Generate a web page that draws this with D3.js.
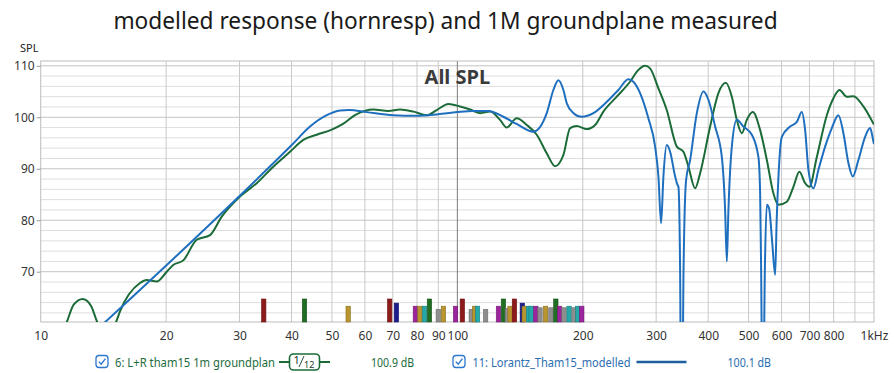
<!DOCTYPE html>
<html>
<head>
<meta charset="utf-8">
<script src="https://cdn.jsdelivr.net/npm/d3@7"></script>
<style>
  body { margin: 0; background: #fff; }
  text { font-family: "Noto Sans", "Open Sans", sans-serif; }
</style>
</head>
<body>
<script>
// measured: [freq Hz, dB]
const measured = [
  [10, 50], [11.55, 60.2], [12.0, 63.6], [12.61, 64.7], [13.2, 63.4], [13.67, 60.2], [14.4, 57.5],
  [15.16, 60.2], [15.5, 62.3], [17.31, 67.8], [17.97, 68.4], [18.98, 68.1], [20.07, 70.0], [20.8, 71.3],
  [21.99, 72.2], [23.68, 76.2], [25.49, 77.1], [27.2, 80.7], [30.09, 84.6], [33, 87.2], [36.16, 90.4],
  [39.66, 93.3], [42.69, 95.6], [45.97, 96.6], [49.95, 97.6], [53.15, 98.7], [56.8, 100.4], [62.85, 101.5],
  [68.29, 101.2], [72.86, 101.5], [78.43, 101.1], [84.44, 100.4], [89.25, 101.4], [95.15, 102.6],
  [101.5, 102.1], [107.3, 101.5], [113.4, 100.8], [119.8, 101.1], [126.6, 99.5], [131.4, 98.0],
  [138.8, 99.8], [146.8, 98.5], [155.1, 96.6], [163.9, 93.0], [171.6, 90.5], [179.7, 92.7], [186.5, 97.9],
  [193.5, 98.3], [204.5, 97.7], [214.1, 98.5], [224.1, 101.1], [241.3, 104.0], [259.7, 106.9],
  [272, 109.2], [282.2, 110.0], [290.1, 109.5], [303.8, 105.6], [318.1, 101.4], [336.3, 94.3],
  [348.8, 93.3], [358.6, 90.4], [372.1, 86.2], [382.5, 89.1], [404.3, 98.2], [423.2, 104.7],
  [440.9, 106.7], [455.8, 104.0], [468.5, 99.5], [481.7, 96.9], [495.2, 99.5], [511.9, 101.0],
  [533, 97.5], [553.1, 91.7], [573.6, 85.2], [589.8, 83.0], [617.7, 83.6], [640.6, 86.5], [662.2, 89.4],
  [683.4, 87.2], [699.8, 86.5], [729.1, 92.3], [770.5, 100.4], [799.1, 103.7], [826.1, 105.3],
  [860.4, 104.0], [892.4, 104.1], [943.1, 102.1], [996.8, 98.8], [1000, 98.6]
];

// modelled (hornresp)
const modelled = [
  [10, 48.5], [14.27, 60.2], [20.07, 71.3], [30.09, 84.8], [40.04, 94.6], [44.3, 98.2], [48.59, 100.4],
  [52.3, 101.3], [55, 101.4], [60.59, 101.0], [70.09, 100.4], [79.91, 100.3], [89.89, 100.6], [100, 101.0],
  [109.1, 101.2], [118.7, 101.2], [128.9, 100.1], [138.8, 98.7], [152.2, 97.2], [163.9, 100.8],
  [170, 105.3], [174.8, 107.2], [179.7, 105.3], [183.1, 102.7], [190, 100.8], [198.9, 100.1],
  [212.1, 100.8], [228.4, 103.0], [243.5, 105.3], [257.3, 107.4], [264.5, 106.9], [274.5, 104.7],
  [287.4, 99.8], [298.3, 94.3], [303.8, 88.5], [308.3, 79.4], [312.3, 88.5], [318.1, 94.6],
  [324.1, 93.3], [333.2, 88.5], [337.4, 86.9], [339.3, 86.5], [342.5, 70], [344, 50], [347, 50],
  [349, 70], [354, 87.8], [362, 91.7], [375.6, 100.8], [389.6, 105.0], [400.5, 103.4], [415.6, 98.2],
  [431.3, 92.3], [439.2, 82.0], [443.4, 72.0], [447.3, 82.0], [455.8, 94.3], [468.5, 99.5], [486, 98.2],
  [509.1, 96.6], [527.9, 92.3], [533, 85.2], [536, 70], [539, 50], [543, 50], [547, 70], [553.1, 83.0],
  [560, 82.3], [570, 75.5], [579.1, 69.4], [584, 80], [589.8, 88.5], [600.9, 96.2], [629, 98.2],
  [652.8, 99.1], [671.1, 101.0], [683.4, 97.5], [696, 89.8], [715.5, 86.2], [735.6, 89.8], [763.3, 94.3],
  [792.1, 97.9], [821.5, 100.4], [844.5, 96.9], [868.1, 91.1], [889.4, 88.5], [917.4, 91.7],
  [952.1, 96.2], [978.7, 97.9], [996.8, 95.3], [1000, 94.8]
];

// marker bars along the bottom: frequency, top dB, colour key
const barFreqs = [34.3, 42.97, 54.7, 68.8, 71.4, 79.3, 81.3, 83.4, 85.7, 90.0, 92.6, 99.0, 102.8,
  108.0, 110.0, 111.8, 116.9, 125.5, 129.0, 131.8, 133.8, 137.1, 143.2, 144.7, 148.2, 150.3,
  154.3, 157.9, 162.8, 167.7, 172.3, 175.9, 180.3, 185.4, 190.6, 194.3, 198.9];
const barTops = [64.7, 64.7, 63.3, 64.7, 63.9, 63.3, 63.3, 63.3, 64.7, 62.7, 63.3, 63.3, 64.7,
  62.7, 63.3, 63.3, 62.7, 63.3, 64.7, 62.9, 63.3, 64.7, 63.9, 63.3, 63.3, 63.3,
  63.3, 63.0, 63.3, 63.0, 64.7, 63.3, 63.0, 63.3, 63.0, 63.3, 63.3];
const barKinds = ['red', 'green', 'gold', 'red', 'navy', 'magenta', 'gold', 'teal', 'green', 'grey', 'gold', 'magenta', 'red',
  'grey', 'gold', 'teal', 'grey', 'magenta', 'green', 'grey', 'gold', 'red', 'navy', 'gold', 'teal', 'teal',
  'magenta', 'grey', 'gold', 'grey', 'green', 'magenta', 'grey', 'teal', 'grey', 'teal', 'magenta'];

const xTicks = [10, 20, 30, 40, 50, 60, 70, 80, 90, 100, 200, 300, 400, 500, 600, 700, 800, 1000];
const xGrid = [20, 30, 40, 50, 60, 70, 80, 90, 100, 200, 300, 400, 500, 600, 700, 800, 900];
const yTicks = [70, 80, 90, 100, 110];

const barColors = {
  red: '#8e1b1b', green: '#1f6e24', gold: '#b8952f', navy: '#1c1c8c',
  magenta: '#9c249c', teal: '#24a8a8', grey: '#8f8f8f'
};

const W = 894, H = 373;
const svg = d3.select('body').append('svg').attr('width', W).attr('height', H);

const x = d3.scaleLog().domain([10, 1000]).range([40.7, 874]);
const y = d3.scaleLinear().domain([60.23, 110.93]).range([322, 61]);

// title
svg.append('text')
  .attr('x', 445.5).attr('y', 29)
  .attr('text-anchor', 'middle')
  .attr('font-size', 22.7)
  .attr('fill', '#1a1a1a')
  .text('modelled response (hornresp) and 1M groundplane measured');

svg.append('text')
  .attr('x', 20).attr('y', 52)
  .attr('font-size', 11)
  .attr('fill', '#222')
  .text('SPL');

const plot = svg.append('g');

// horizontal grid, every 2 dB
const hLines = d3.range(62, 111, 2);
plot.selectAll('line.h').data(hLines).join('line')
  .attr('x1', x(10)).attr('x2', x(1000))
  .attr('y1', d => y(d)).attr('y2', d => y(d))
  .attr('stroke', d => d % 10 === 0 ? '#c4c4c4' : '#dedede')
  .attr('stroke-width', 1);

// vertical grid
plot.selectAll('line.v').data(xGrid).join('line')
  .attr('x1', d => x(d)).attr('x2', d => x(d))
  .attr('y1', y.range()[1]).attr('y2', y.range()[0])
  .attr('stroke', d => d === 100 ? '#7d7d7d' : '#c8c8c8')
  .attr('stroke-width', 1);

// frame
plot.append('rect')
  .attr('x', x(10)).attr('y', 61)
  .attr('width', x(1000) - x(10)).attr('height', 322 - 61)
  .attr('fill', 'none').attr('stroke', '#bdbdbd');

// y axis
const yAxis = d3.axisLeft(y).tickValues(yTicks).tickSize(4).tickPadding(2);
const gy = svg.append('g').attr('transform', `translate(${x(10)},0)`).call(yAxis);
gy.select('.domain').remove();
gy.selectAll('line').attr('stroke', '#999');
gy.selectAll('text').attr('font-size', 12).attr('fill', '#333')
  .style('font-family', '"Noto Sans", sans-serif');

// x axis
const xAxis = d3.axisBottom(x).tickValues(xTicks).tickSize(0).tickPadding(9)
  .tickFormat(d => d === 1000 ? '1kHz' : d);
const gx = svg.append('g').attr('transform', 'translate(0,322)').call(xAxis);
gx.select('.domain').remove();
gx.selectAll('text').attr('font-size', 12).attr('fill', '#333')
  .style('font-family', '"Noto Sans", sans-serif');

// All SPL
svg.append('text')
  .attr('x', x(100)).attr('y', 84)
  .attr('text-anchor', 'middle')
  .attr('font-size', 20).attr('font-weight', 'bold')
  .attr('fill', '#3b3b3b')
  .text('All SPL');

// bars
const bars = barFreqs.map((f, i) => ({ f, top: barTops[i], kind: barKinds[i] }));
plot.selectAll('rect.bar').data(bars).join('rect')
  .attr('class', 'bar')
  .attr('x', d => x(d.f) - 2.2)
  .attr('width', 4.4)
  .attr('y', d => y(d.top))
  .attr('height', d => 322 - y(d.top))
  .attr('fill', d => barColors[d.kind])
  .attr('stroke', d => d3.color(barColors[d.kind]).darker(0.8))
  .attr('stroke-width', 0.6);

// clip for curves
svg.append('clipPath').attr('id', 'clip').append('rect')
  .attr('x', x(10)).attr('y', 61).attr('width', x(1000) - x(10)).attr('height', 322 - 61);

const line = d3.line().x(d => x(d[0])).y(d => y(d[1])).curve(d3.curveMonotoneX);

const curves = svg.append('g').attr('clip-path', 'url(#clip)');
curves.append('path').datum(measured)
  .attr('d', line).attr('fill', 'none')
  .attr('stroke', '#1b6b38').attr('stroke-width', 2);
curves.append('path').datum(modelled)
  .attr('d', line).attr('fill', 'none')
  .attr('stroke', '#1f6fbf').attr('stroke-width', 2);

// legend
function checkbox(g, cx) {
  g.append('rect').attr('x', cx).attr('y', 355.5).attr('width', 12).attr('height', 12)
    .attr('rx', 3).attr('fill', '#fff').attr('stroke', '#2b78d0').attr('stroke-width', 1.3);
  g.append('path').attr('d', `M${cx + 2.8},${361.6} L${cx + 5.2},${364.2} L${cx + 9.4},${358.6}`)
    .attr('fill', 'none').attr('stroke', '#2b78d0').attr('stroke-width', 1.4);
}
const lg = svg.append('g');
checkbox(lg, 96);
lg.append('text').attr('x', 115).attr('y', 366.5).attr('font-size', 12.5).attr('fill', '#1d6b3c')
  .attr('textLength', 160).attr('lengthAdjust', 'spacingAndGlyphs')
  .text('6: L+R tham15 1m groundplan');
lg.append('line').attr('x1', 279).attr('x2', 330).attr('y1', 362).attr('y2', 362)
  .attr('stroke', '#1b6b38').attr('stroke-width', 2);
lg.append('rect').attr('x', 289.5).attr('y', 354).attr('width', 30).attr('height', 16).attr('rx', 4)
  .attr('fill', '#fff').attr('stroke', '#1b6b38').attr('stroke-width', 1.6);
lg.append('text').attr('x', 293.5).attr('y', 364).attr('font-size', 11).attr('fill', '#1b3b2b').text('1');
lg.append('line').attr('x1', 304).attr('x2', 299).attr('y1', 356).attr('y2', 367)
  .attr('stroke', '#1b3b2b').attr('stroke-width', 0.9);
lg.append('text').attr('x', 304).attr('y', 368).attr('font-size', 9).attr('fill', '#1b3b2b').text('12');
lg.append('text').attr('x', 371).attr('y', 366.5).attr('font-size', 12.5).attr('fill', '#1d6b3c')
  .attr('textLength', 43).attr('lengthAdjust', 'spacingAndGlyphs')
  .text('100.9 dB');

checkbox(lg, 453);
lg.append('text').attr('x', 472.5).attr('y', 366.5).attr('font-size', 12.5).attr('fill', '#2a6db0')
  .attr('textLength', 158).attr('lengthAdjust', 'spacingAndGlyphs')
  .text('11: Lorantz_Tham15_modelled');
lg.append('line').attr('x1', 636.5).attr('x2', 686.5).attr('y1', 362).attr('y2', 362)
  .attr('stroke', '#1f5f9f').attr('stroke-width', 2.4);
lg.append('text').attr('x', 727.5).attr('y', 366.5).attr('font-size', 12.5).attr('fill', '#2a6db0')
  .attr('textLength', 43.5).attr('lengthAdjust', 'spacingAndGlyphs')
  .text('100.1 dB');
</script>
</body>
</html>
